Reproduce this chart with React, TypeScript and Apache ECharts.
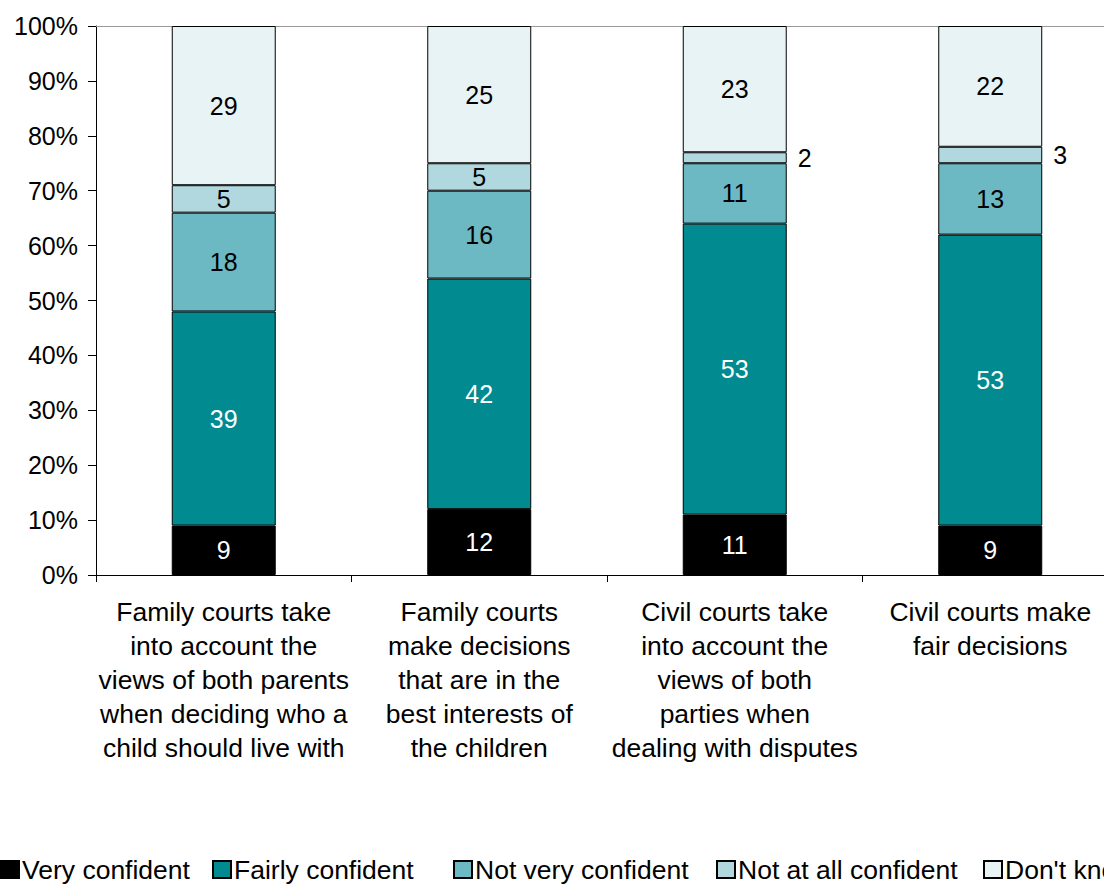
import React, { useEffect, useRef } from "react";
import * as echarts from "echarts";

const categories = [
  "Family courts take\ninto account the\nviews of both parents\nwhen deciding who a\nchild should live with",
  "Family courts\nmake decisions\nthat are in the\nbest interests of\nthe children",
  "Civil courts take\ninto account the\nviews of both\nparties when\ndealing with disputes",
  "Civil courts make\nfair decisions",
];
const veryConfident = [9, 12, 11, 9];
const fairlyConfident = [39, 42, 53, 53];
const notVeryConfident = [18, 16, 11, 13];
const notAtAllConfident = [5, 5, 2, 3];
const dontKnow = [29, 25, 23, 22];
const yTicks = [0, 100, 10];

const seriesDefs = [
  { name: "Very confident", data: veryConfident, color: "#000000", label: "#ffffff" },
  { name: "Fairly confident", data: fairlyConfident, color: "#028A91", label: "#ffffff" },
  { name: "Not very confident", data: notVeryConfident, color: "#6CB9C3", label: "#000000" },
  { name: "Not at all confident", data: notAtAllConfident, color: "#B1D8DE", label: "#000000" },
  { name: "Don't know", data: dontKnow, color: "#E8F3F5", label: "#000000" },
];
const legendLefts = [0, 212, 453, 716, 983];

export default function App() {
  const ref = useRef<HTMLDivElement>(null);
  useEffect(() => {
    if (!ref.current) return;
    const chart = echarts.init(ref.current, undefined, { renderer: "svg" });
    const font = "'Liberation Sans', Arial, sans-serif";
    chart.setOption({
      animation: false,
      textStyle: { fontFamily: font },
      grid: { left: 96, top: 26, right: 12, height: 549 },
      legend: seriesDefs.map((s, i) => ({
        data: [s.name],
        left: legendLefts[i],
        top: 856,
        itemWidth: 18,
        itemHeight: 17,
        itemGap: 0,
        textStyle: { fontSize: 26.5, color: "#000", fontFamily: font, padding: [0, 0, 0, -2] },
        padding: 0,
        icon: "rect",
      })),
      xAxis: [
        {
          type: "category",
          data: categories,
          axisLine: { lineStyle: { color: "#000", width: 1 } },
          axisTick: { show: true, length: 7, lineStyle: { color: "#000" } },
          axisLabel: {
            interval: 0,
            fontSize: 26.5,
            lineHeight: 34,
            color: "#000",
            margin: 20,
            fontFamily: font,
          },
        },
        {
          type: "category",
          position: "top",
          data: categories,
          axisLine: { show: true, lineStyle: { color: "#999", width: 1 } },
          axisTick: { show: false },
          axisLabel: { show: false },
        },
      ],
      yAxis: {
        type: "value",
        min: yTicks[0],
        max: yTicks[1],
        interval: yTicks[2],
        axisLine: { show: true, lineStyle: { color: "#000" } },
        axisTick: { show: true, length: 8, lineStyle: { color: "#000" } },
        splitLine: { show: false },
        axisLabel: {
          formatter: "{value}%",
          fontSize: 25,
          color: "#000",
          margin: 18,
          fontFamily: font,
        },
      },
      series: seriesDefs.map((s) => ({
        name: s.name,
        type: "bar",
        stack: "total",
        barWidth: "40.7%",
        itemStyle: { color: s.color, borderColor: "#000", borderWidth: 1 },
        label: {
          show: true,
          position: "inside",
          fontSize: 25,
          color: s.label,
          fontFamily: font,
        },
        data: s.data.map((v) =>
          v < 4
            ? { value: v, label: { position: "right", distance: 11, color: "#000" } }
            : v
        ),
      })),
    });
    return () => chart.dispose();
  }, []);
  return (
    <div style={{ position: "fixed", left: 0, top: 0, width: 1104, height: 884, overflow: "hidden", background: "#fff" }}>
      <div ref={ref} style={{ width: 1130, height: 884 }} />
    </div>
  );
}
